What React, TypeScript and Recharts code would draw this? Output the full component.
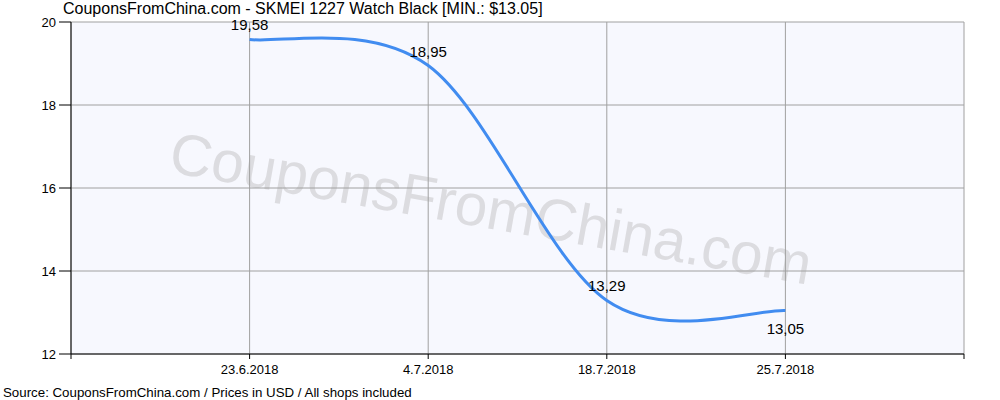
import React from 'react';
import { LineChart, Line, XAxis, YAxis, CartesianGrid, LabelList } from 'recharts';

// Dates shown on the x axis (equally spaced, one slot each)
const dates = ['23.6.2018', '4.7.2018', '18.7.2018', '25.7.2018'];
// Price in USD for each date
const prices = [19.58, 18.95, 13.29, 13.05];
const yTicks = [12, 14, 16, 18, 20];
const xTicks = [0, 1, 2, 3, 4, 5];

const title = 'CouponsFromChina.com - SKMEI 1227 Watch Black [MIN.: $13.05]';
const source = 'Source: CouponsFromChina.com / Prices in USD / All shops included';
const watermark = 'CouponsFromChina.com';

const FONT = '"Liberation Sans", Arial, sans-serif';

const chartData = dates.map((d, i) => ({ pos: i + 1, date: d, price: prices[i] }));

// cardinal spline (catmull-rom like), same as the old GDI+ DrawCurve look
const cardinalCurve = (context: any) => {
  let pts: [number, number][] = [];
  return {
    areaStart() {},
    areaEnd() {},
    lineStart() {
      pts = [];
    },
    point(x: number, y: number) {
      pts.push([+x, +y]);
    },
    lineEnd() {
      if (!pts.length) return;
      context.moveTo(pts[0][0], pts[0][1]);
      for (let i = 0; i < pts.length - 1; i++) {
        const p0 = pts[i - 1] || pts[i];
        const p1 = pts[i];
        const p2 = pts[i + 1];
        const p3 = pts[i + 2] || pts[i + 1];
        context.bezierCurveTo(
          p1[0] + (p2[0] - p0[0]) / 6,
          p1[1] + (p2[1] - p0[1]) / 6,
          p2[0] - (p3[0] - p1[0]) / 6,
          p2[1] - (p3[1] - p1[1]) / 6,
          p2[0],
          p2[1]
        );
      }
    },
  };
};

const formatDate = (v: number) => (v >= 1 && v <= dates.length ? dates[v - 1] : '');

const renderLabel = (props: any) => {
  const { x, y, value, index } = props;
  const last = index === prices.length - 1;
  return (
    <text
      x={x}
      y={last ? y + 18 : y - 14.5}
      textAnchor="middle"
      dominantBaseline="central"
      fontSize={15}
      fontFamily={FONT}
      fill="#000"
    >
      {Number(value).toFixed(2).replace('.', ',')}
    </text>
  );
};

const App: React.FC = () => {
  return (
    <div style={{ position: 'absolute', left: 0, top: 0, width: 1000, height: 400, background: '#fff' }}>
      {/* background: plot fill, watermark, title and source */}
      <svg width={1000} height={400} style={{ position: 'absolute', left: 0, top: 0 }}>
        <rect x={71} y={22} width={893} height={332} fill="#f7f8fe" />
        <text
          x={491}
          y={208}
          textAnchor="middle"
          dominantBaseline="central"
          fontSize={58.5}
          fontFamily={FONT}
          fill="#dcdce0"
          transform="rotate(10 491 208)"
        >
          {watermark}
        </text>
        <text x={63} y={14} fontSize={16} fontFamily={FONT} fill="#000">
          {title}
        </text>
        <text x={3} y={397} fontSize={13.3} fontFamily={FONT} fill="#000">
          {source}
        </text>
      </svg>
      <div style={{ position: 'absolute', left: 0, top: 0 }}>
        <LineChart
          width={1000}
          height={400}
          data={chartData}
          margin={{ top: 22, right: 36, bottom: 16, left: 0 }}
          style={{ fontFamily: FONT }}
        >
          <CartesianGrid stroke="#a0a0a0" strokeWidth={1} />
          <XAxis
            dataKey="pos"
            type="number"
            domain={[0, 5]}
            ticks={xTicks}
            tickFormatter={formatDate}
            interval={0}
            height={30}
            axisLine={{ stroke: '#000' }}
            tickLine={{ stroke: '#000' }}
            tickSize={5}
            tickMargin={6}
            tick={{ fill: '#000', fontSize: 13 }}
          />
          <YAxis
            type="number"
            domain={[12, 20]}
            ticks={yTicks}
            width={71}
            axisLine={{ stroke: '#000' }}
            tickLine={{ stroke: '#000' }}
            tickSize={12}
            tickMargin={3}
            tick={{ fill: '#000', fontSize: 13 }}
          />
          <Line
            dataKey="price"
            type={cardinalCurve as any}
            stroke="#418cf0"
            strokeWidth={3}
            dot={false}
            activeDot={false}
            isAnimationActive={false}
          >
            <LabelList dataKey="price" content={renderLabel} />
          </Line>
        </LineChart>
      </div>
    </div>
  );
};

export default App;
